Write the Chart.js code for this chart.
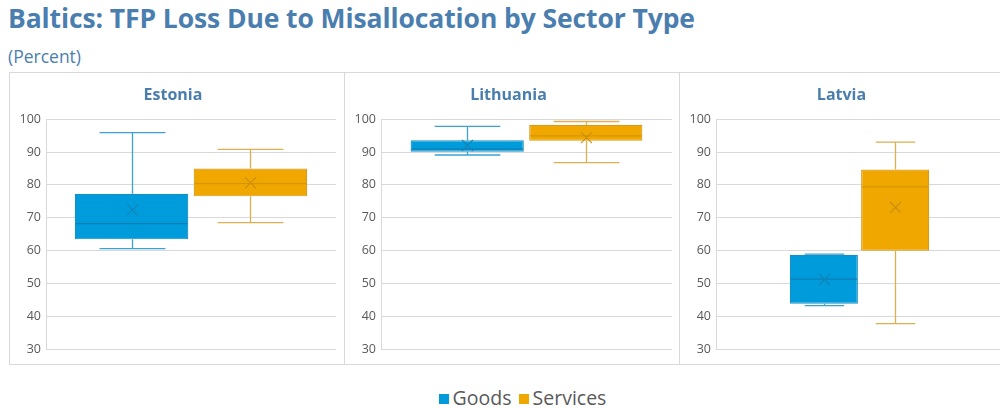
<!DOCTYPE html>
<html>
<head>
<meta charset="utf-8">
<script src="https://cdn.jsdelivr.net/npm/chart.js@4"></script>
<style>
  html, body { margin: 0; padding: 0; background: #fff; overflow: hidden; }
  #wrap { position: relative; width: 1000px; height: 408px; overflow: hidden; font-family: "Open Sans", "Noto Sans", sans-serif; }
  #title { position: absolute; left: 8px; top: 0px; font-size: 26.5px; font-weight: 700; color: #4A7EAF; white-space: nowrap; letter-spacing: -0.1px; }
  #subtitle { position: absolute; left: 8px; top: 44px; font-size: 17.5px; color: #4A7EAF; white-space: nowrap; }
  #frame { position: absolute; left: 9px; top: 72px; width: 1010px; height: 293px; border: 1px solid #D9D9D9; box-sizing: border-box; }
  .div { position: absolute; top: 72px; width: 1px; height: 293px; background: #D9D9D9; }
  .cv { position: absolute; top: 73px; height: 291px; }
  #legend { position: absolute; top: 384px; left: 0; width: 1045px; text-align: center; font-size: 19.5px; color: #595959; white-space: nowrap; }
  .sw { display: inline-block; width: 10px; height: 10px; margin-right: 4px; vertical-align: 1px; }
</style>
</head>
<body>
<div id="wrap">
  <div id="title">Baltics: TFP Loss Due to Misallocation by Sector Type</div>
  <div id="subtitle">(Percent)</div>
  <div id="frame"></div>
  <div class="div" style="left:344px"></div>
  <div class="div" style="left:679px"></div>
  <div class="cv" style="left:10px;width:334px"><canvas id="c0"></canvas></div>
  <div class="cv" style="left:345px;width:334px"><canvas id="c1"></canvas></div>
  <div class="cv" style="left:680px;width:335px"><canvas id="c2"></canvas></div>
  <div id="legend"><span class="sw" style="background:#009BDB"></span>Goods <span class="sw" style="background:#F0A800;margin-left:2px"></span>Services</div>
</div>
<script>
// ---- Data ----
const countries = ['Estonia', 'Lithuania', 'Latvia'];
const seriesNames = ['Goods', 'Services'];
const yTicks = [30, 40, 50, 60, 70, 80, 90, 100];

const goodsMin    = [60.6, 89.1, 43.2];
const goodsQ1     = [63.4, 90.1, 43.8];
const goodsMedian = [68.2, 90.9, 51.3];
const goodsQ3     = [77.3, 93.6, 58.7];
const goodsMax    = [95.9, 97.8, 58.9];
const goodsMean   = [72.4, 92.0, 51.1];

const servMin    = [68.5, 86.8, 37.7];
const servQ1     = [76.5, 93.4, 59.9];
const servMedian = [80.4, 94.9, 79.4];
const servQ3     = [85.0, 98.3, 84.7];
const servMax    = [90.8, 99.3, 93.0];
const servMean   = [80.6, 94.4, 73.1];

// ---- Styles ----
const styles = [
  { fill: '#009BDB', border: '#1A8FC6', median: '#0B7FB3', whisker: '#3AA3D3', mean: '#1582B5' },
  { fill: '#F0A800', border: '#D99B1C', median: '#D69400', whisker: '#DDAE52', mean: '#C98E10' }
];
const catPct = [0.82, 0.815, 0.497];
const rightPad = [8, 7, 12];

const boxPlugin = {
  id: 'boxWhisker',
  afterDatasetsDraw(chart) {
    const ctx = chart.ctx;
    const y = chart.scales.y;
    const idx = chart.options.plugins.boxWhisker.country;
    const stats = [
      { min: goodsMin[idx], med: goodsMedian[idx], max: goodsMax[idx], mean: goodsMean[idx], q1: goodsQ1[idx], q3: goodsQ3[idx] },
      { min: servMin[idx], med: servMedian[idx], max: servMax[idx], mean: servMean[idx], q1: servQ1[idx], q3: servQ3[idx] }
    ];
    chart.data.datasets.forEach((ds, i) => {
      const bar = chart.getDatasetMeta(i).data[0];
      const st = styles[i];
      const s = stats[i];
      const cx = Math.round(bar.x) + 0.5;
      const w = bar.width;
      const cap = w * 0.29;
      const pMax = y.getPixelForValue(s.max), pMin = y.getPixelForValue(s.min);
      const pQ1 = y.getPixelForValue(s.q1), pQ3 = y.getPixelForValue(s.q3);
      const pMed = y.getPixelForValue(s.med), pMean = y.getPixelForValue(s.mean);
      ctx.save();
      ctx.lineWidth = 1.3;
      ctx.strokeStyle = st.whisker;
      ctx.beginPath();
      ctx.moveTo(cx, pQ3); ctx.lineTo(cx, pMax);
      ctx.moveTo(cx - cap, pMax); ctx.lineTo(cx + cap, pMax);
      ctx.moveTo(cx, pQ1); ctx.lineTo(cx, pMin);
      ctx.moveTo(cx - cap, pMin); ctx.lineTo(cx + cap, pMin);
      ctx.stroke();
      // median
      ctx.strokeStyle = st.median;
      ctx.lineWidth = 1.3;
      ctx.beginPath();
      ctx.moveTo(bar.x - w / 2 + 1, pMed); ctx.lineTo(bar.x + w / 2 - 1, pMed);
      ctx.stroke();
      // mean X
      const m = 5.5;
      ctx.strokeStyle = st.mean;
      ctx.lineWidth = 1.1;
      ctx.beginPath();
      ctx.moveTo(cx - m, pMean - m); ctx.lineTo(cx + m, pMean + m);
      ctx.moveTo(cx - m, pMean + m); ctx.lineTo(cx + m, pMean - m);
      ctx.stroke();
      ctx.restore();
    });
  }
};

function makeChart(i) {
  const q1s = [goodsQ1[i], servQ1[i]];
  const q3s = [goodsQ3[i], servQ3[i]];
  new Chart(document.getElementById('c' + i), {
    type: 'bar',
    data: {
      labels: [countries[i]],
      datasets: seriesNames.map((name, k) => ({
        label: name,
        data: [[q1s[k], q3s[k]]],
        backgroundColor: styles[k].fill,
        borderColor: styles[k].border,
        borderWidth: 1.2,
        borderSkipped: false,
        categoryPercentage: catPct[i],
        barPercentage: 0.955
      }))
    },
    options: {
      responsive: true,
      maintainAspectRatio: false,
      animation: false,
      layout: { padding: { left: 0, right: rightPad[i], top: 0, bottom: 15 } },
      plugins: {
        legend: { display: false },
        tooltip: { enabled: false },
        title: {
          display: true,
          text: countries[i],
          color: '#4A7EAF',
          font: { family: '"Open Sans", "Noto Sans", sans-serif', size: 16, weight: 'bold' },
          padding: { top: 13, bottom: 14 }
        },
        boxWhisker: { country: i }
      },
      scales: {
        x: { display: false },
        y: {
          min: 30, max: 100,
          afterBuildTicks: (axis) => { axis.ticks = yTicks.map(v => ({ value: v })); },
          afterFit: (axis) => { axis.width = 36; },
          grid: { color: '#D9D9D9', drawTicks: false, lineWidth: 1 },
          border: { display: true, color: '#D9D9D9' },
          ticks: {
            color: '#595959',
            padding: 5,
            font: { family: '"Open Sans", "Noto Sans", sans-serif', size: 12.5 }
          }
        }
      }
    },
    plugins: [boxPlugin]
  });
}
[0, 1, 2].forEach(makeChart);
</script>
</body>
</html>
